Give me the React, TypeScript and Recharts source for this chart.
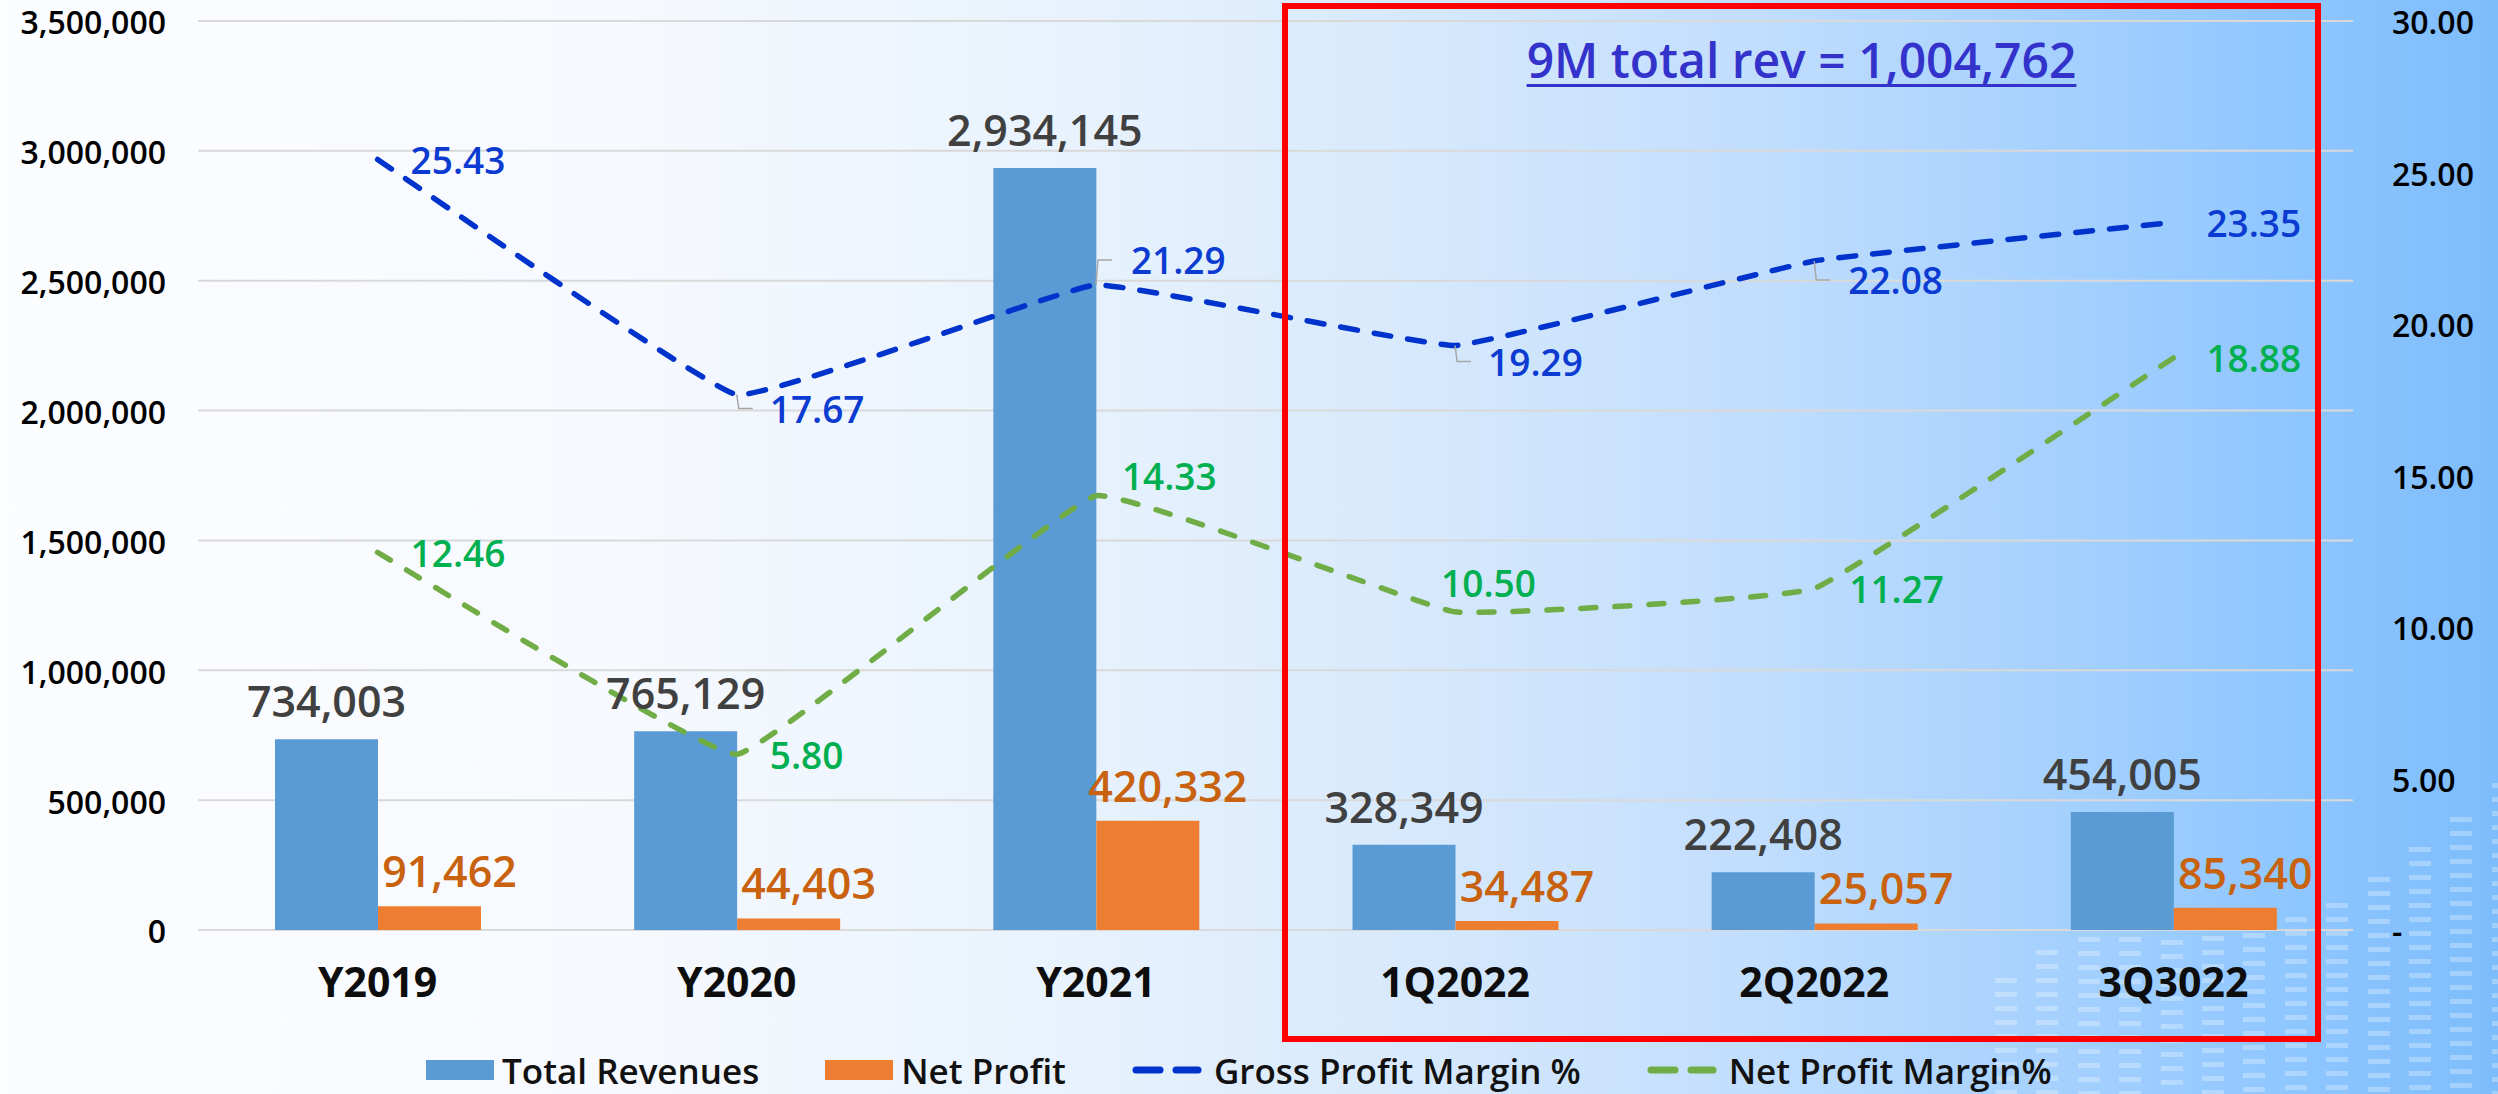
import React from 'react';
import {
  ComposedChart,
  Bar,
  Line,
  XAxis,
  YAxis,
  CartesianGrid,
  Legend,
  LabelList,
} from 'recharts';

const CATEGORIES = ['Y2019', 'Y2020', 'Y2021', '1Q2022', '2Q2022', '3Q3022'];
const TOTAL_REVENUES = [734003, 765129, 2934145, 328349, 222408, 454005];
const NET_PROFIT = [91462, 44403, 420332, 34487, 25057, 85340];
const GROSS_MARGIN = [25.43, 17.67, 21.29, 19.29, 22.08, 23.35];
const NET_MARGIN = [12.46, 5.8, 14.33, 10.5, 11.27, 18.88];
const LEFT_TICKS = [0, 500000, 1000000, 1500000, 2000000, 2500000, 3000000, 3500000];
const RIGHT_TICKS = [0, 5, 10, 15, 20, 25, 30];
const TITLE = '9M total rev = 1,004,762';

// label nudges (dx, dy) copied from where excel put them
const GROSS_NUDGE = [[33, 0], [33, 14], [35, -25], [33, 16], [34, 19], [33, 0]];
const NET_NUDGE = [[33, 0], [33, 0], [26, -20], [-14, -29], [35, 0], [33, 0]];
const GROSS_LEADER = [false, true, true, true, true, false];

const W = 2498;
const H = 1094;
const PLOT_TOP = 21;
const PLOT_BOTTOM = 930;
const LEFT_W = 198;
const RIGHT_W = 145;
const LEGEND_H = 48;
const FONT = "'Open Sans', 'Noto Sans', sans-serif";

const BLUE_BAR = '#5B9BD5';
const ORANGE_BAR = '#ED7D31';
const GROSS_LINE = '#0033CC';
const NET_LINE = '#70AD47';

// decorative striped columns in the bottom-right corner of the background
const DECO_COLS = [978, 950, 937, 937, 940, 936, 933, 917, 903, 877, 847, 817, 783];

const data = CATEGORIES.map((name, i) => ({
  name,
  revenue: TOTAL_REVENUES[i],
  profit: NET_PROFIT[i],
  gross: GROSS_MARGIN[i],
  net: NET_MARGIN[i],
}));

// excel-like smoothing: bezier with a short tangent, nearly straight segments
const SMOOTH_K = 0.04;
const excelSmooth = (context: any) => {
  let pts: number[][] = [];
  return {
    areaStart() {},
    areaEnd() {},
    lineStart() {
      pts = [];
    },
    point(x: number, y: number) {
      pts.push([+x, +y]);
    },
    lineEnd() {
      if (!pts.length) return;
      context.moveTo(pts[0][0], pts[0][1]);
      for (let i = 0; i < pts.length - 1; i++) {
        const p0 = pts[i - 1] || pts[i];
        const p1 = pts[i];
        const p2 = pts[i + 1];
        const p3 = pts[i + 2] || p2;
        context.bezierCurveTo(
          p1[0] + (p2[0] - p0[0]) * SMOOTH_K,
          p1[1] + (p2[1] - p0[1]) * SMOOTH_K,
          p2[0] - (p3[0] - p1[0]) * SMOOTH_K,
          p2[1] - (p3[1] - p1[1]) * SMOOTH_K,
          p2[0],
          p2[1],
        );
      }
    },
  };
};

const axisTick = (anchor: string, fmt: (v: number) => string) => (props: any) => (
  <text
    x={props.x}
    y={Number(props.y) + 2}
    dy="0.355em"
    textAnchor={anchor}
    fontSize={32}
    fontWeight={600}
    fill="#000"
    fontFamily={FONT}
  >
    {fmt(Number(props.payload.value))}
  </text>
);

const barLabel = (color: string, dx: number, offset: number) => (props: any) => {
  const vb = props.viewBox || {};
  const x = Number(props.x ?? vb.x);
  const y = Number(props.y ?? vb.y);
  const width = Number(props.width ?? vb.width);
  return (
    <text
      x={x + width / 2 + dx}
      y={y - offset}
      textAnchor="middle"
      fill={color}
      fontSize={43}
      fontWeight={600}
      fontFamily={FONT}
    >
      {Number(props.value).toLocaleString('en-US')}
    </text>
  );
};

const lineLabel = (color: string, values: number[], nudges: number[][], leaders: boolean[]) => (props: any) => {
  const vb = props.viewBox || {};
  const x = Number(props.x ?? vb.x);
  const y = Number(props.y ?? vb.y);
  const idx = props.index ?? values.indexOf(Number(props.value));
  const [dx, dy] = nudges[idx] || [33, 0];
  const ly = y + dy;
  return (
    <g>
      {leaders[idx] && (
        <polyline
          points={`${x},${y} ${x + 2},${ly} ${x + 16},${ly}`}
          fill="none"
          stroke="#a6a6a6"
          strokeWidth={1.5}
        />
      )}
      <text
        x={x + dx}
        y={ly}
        dominantBaseline="central"
        fill={color}
        fontSize={37}
        fontWeight={600}
        fontFamily={FONT}
      >
        {Number(props.value).toFixed(2)}
      </text>
    </g>
  );
};

const LEGEND_ITEMS = [
  { label: 'Total Revenues', color: BLUE_BAR, dashed: false },
  { label: 'Net Profit', color: ORANGE_BAR, dashed: false },
  { label: 'Gross Profit Margin %', color: GROSS_LINE, dashed: true },
  { label: 'Net Profit Margin%', color: NET_LINE, dashed: true },
];

const renderLegend = () => (
  <div
    style={{
      height: LEGEND_H,
      display: 'flex',
      alignItems: 'center',
      paddingLeft: 426,
      fontFamily: FONT,
      fontSize: 35,
      fontWeight: 600,
      color: '#111',
    }}
  >
    {LEGEND_ITEMS.map((it) => (
      <div key={it.label} style={{ display: 'flex', alignItems: 'center', marginRight: 66 }}>
        {it.dashed ? (
          <svg width={70} height={20} style={{ marginRight: 12 }}>
            <line x1={4} y1={10} x2={28} y2={10} stroke={it.color} strokeWidth={7} strokeLinecap="round" />
            <line x1={44} y1={10} x2={66} y2={10} stroke={it.color} strokeWidth={7} strokeLinecap="round" />
          </svg>
        ) : (
          <div style={{ width: 68, height: 20, background: it.color, marginRight: 8 }} />
        )}
        <span>{it.label}</span>
      </div>
    ))}
  </div>
);

export default function App() {
  return (
    <div
      style={{
        position: 'absolute',
        left: 0,
        top: 0,
        width: W,
        height: H,
        overflow: 'hidden',
        background:
          'linear-gradient(to right, #fcfdff 0%, #f6f9fe 25%, #e9f3fd 42%, #d9eafc 55%, #c2defd 70%, #a6d1fe 82%, #8ec6ff 92%, #7dbcfb 100%)',
      }}
    >
      {DECO_COLS.map((top, i) => (
        <div
          key={i}
          style={{
            position: 'absolute',
            left: 1995 + i * 41.4,
            top,
            width: 22,
            height: H - top,
            background:
              'repeating-linear-gradient(to bottom, rgba(255,255,255,0.28) 0px, rgba(255,255,255,0.28) 5px, rgba(255,255,255,0) 5px, rgba(255,255,255,0) 14px)',
          }}
        />
      ))}
      <div style={{ position: 'absolute', left: 0, top: 0 }}>
        <ComposedChart
          width={W}
          height={H}
          data={data}
          margin={{ top: PLOT_TOP, right: 0, bottom: 0, left: 0 }}
          barGap={0}
        >
          <CartesianGrid yAxisId="left" vertical={false} stroke="#d9d9d9" strokeWidth={2} />
          <XAxis
            dataKey="name"
            axisLine={false}
            tickLine={false}
            tickSize={0}
            tickMargin={38}
            height={H - PLOT_BOTTOM - LEGEND_H}
            tick={{ fontSize: 41, fontWeight: 700, fill: '#0d0d0d', fontFamily: FONT }}
          />
          <YAxis
            yAxisId="left"
            width={LEFT_W}
            domain={[0, 3500000]}
            ticks={LEFT_TICKS}
            interval={0}
            axisLine={false}
            tickLine={false}
            tickSize={0}
            tickMargin={32}
            tick={axisTick('end', (v) => v.toLocaleString('en-US'))}
          />
          <YAxis
            yAxisId="right"
            orientation="right"
            width={RIGHT_W}
            domain={[0, 30]}
            ticks={RIGHT_TICKS}
            interval={0}
            axisLine={false}
            tickLine={false}
            tickSize={0}
            tickMargin={39}
            tick={axisTick('start', (v) => (v === 0 ? '-' : v.toFixed(2)))}
          />
          <Legend verticalAlign="bottom" height={LEGEND_H} content={renderLegend} wrapperStyle={{ left: 0, width: W }} />
          <Bar yAxisId="left" dataKey="revenue" name="Total Revenues" fill={BLUE_BAR} barSize={103} isAnimationActive={false}>
            <LabelList dataKey="revenue" content={barLabel('#404040', 0, 22)} />
          </Bar>
          <Bar yAxisId="left" dataKey="profit" name="Net Profit" fill={ORANGE_BAR} barSize={103} isAnimationActive={false}>
            <LabelList dataKey="profit" content={barLabel('#C8620F', 20, 19)} />
          </Bar>
          <Line
            yAxisId="right"
            type={excelSmooth as any}
            dataKey="gross"
            name="Gross Profit Margin %"
            stroke={GROSS_LINE}
            strokeWidth={5.5}
            strokeDasharray="17 17"
            strokeLinecap="round"
            dot={false}
            activeDot={false}
            isAnimationActive={false}
          >
            <LabelList dataKey="gross" content={lineLabel('#0B3BD1', GROSS_MARGIN, GROSS_NUDGE, GROSS_LEADER)} />
          </Line>
          <Line
            yAxisId="right"
            type={excelSmooth as any}
            dataKey="net"
            name="Net Profit Margin%"
            stroke={NET_LINE}
            strokeWidth={5.5}
            strokeDasharray="15 19"
            strokeLinecap="round"
            dot={false}
            activeDot={false}
            isAnimationActive={false}
          >
            <LabelList dataKey="net" content={lineLabel('#00B050', NET_MARGIN, NET_NUDGE, [])} />
          </Line>
        </ComposedChart>
      </div>
      <div
        style={{
          position: 'absolute',
          left: 1282,
          top: 3,
          width: 1039,
          height: 1039,
          border: '6px solid #FF0000',
          boxSizing: 'border-box',
          pointerEvents: 'none',
        }}
      />
      <div
        style={{
          position: 'absolute',
          left: 1282,
          width: 1039,
          top: 35,
          textAlign: 'center',
          fontFamily: FONT,
          fontSize: 48,
          lineHeight: '50px',
          fontWeight: 600,
          color: '#3333CC',
          textDecoration: 'underline',
          textDecorationThickness: 3,
          textUnderlineOffset: 6,
        }}
      >
        {TITLE}
      </div>
    </div>
  );
}
